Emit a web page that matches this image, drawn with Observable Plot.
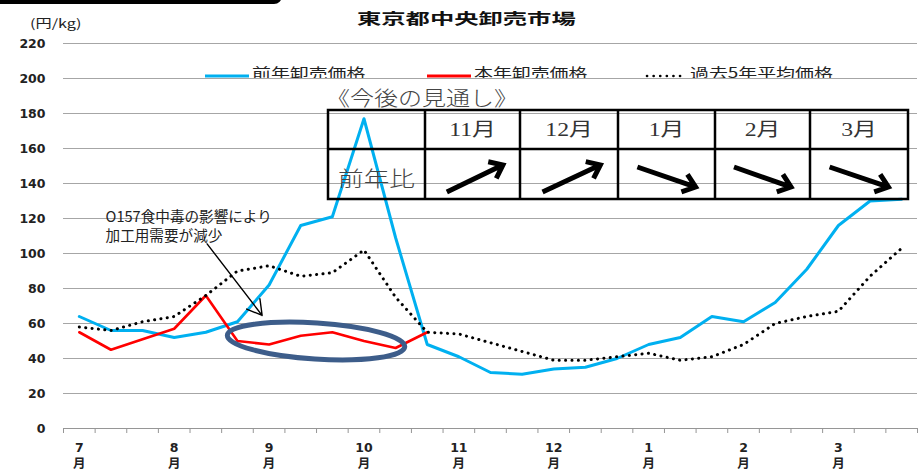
<!DOCTYPE html>
<html>
<head>
<meta charset="utf-8">
<script src="https://cdn.jsdelivr.net/npm/d3@7"></script>
<script src="https://cdn.jsdelivr.net/npm/@observablehq/plot@0.6"></script>
<style>
  html, body { margin: 0; padding: 0; background: #fff; }
  #wrap { position: relative; width: 919px; height: 471px; overflow: hidden; }
  #wrap svg.plot { position: absolute; left: 0; top: 0; }
  .ov { position: absolute; white-space: nowrap; transform-origin: left center; }
</style>
</head>
<body>
<div id="wrap"></div>
<script>
// ---------- data ----------
const monthLabels = ["7", "8", "9", "10", "11", "12", "1", "2", "3"];
// three periods (上・中・下旬) per month, July .. March
const prevYear = [64, 56, 56, 52, 55, 61, 82, 116, 121, 177, 109, 48, 41, 32, 31, 34, 35, 40, 48, 52, 64, 61, 72, 91, 116, 130, 131];
const thisYear = [55, 45, 51, 57, 76, 50, 48, 53, 55, 50, 46, 55];
const avg5 = [58, 56, 61, 64, 76, 90, 93, 87, 89, 102, 75, 55, 54, 49, 44, 39, 39, 41, 43, 39, 41, 48, 60, 64, 67, 87, 103];
const yTicks = [0, 20, 40, 60, 80, 100, 120, 140, 160, 180, 200, 220];
const legendLabels = ["前年卸売価格", "本年卸売価格", "過去5年平均価格"];
const outlookMonths = ["11月", "12月", "1月", "2月", "3月"];
const outlookTrend = ["up", "up", "down", "down", "down"];
const noteLines = ["O157食中毒の影響により", "加工用需要が減少"];

const toPts = arr => arr.map((v, i) => ({period: i + 0.5, price: v}));
const nPeriods = prevYear.length;
const monthPos = monthLabels.map((m, i) => i * 3 + 0.5);

const CJK = "'Noto Sans CJK JP', sans-serif";

const chart = Plot.plot({
  width: 919, height: 471,
  marginLeft: 63, marginRight: 2, marginTop: 43, marginBottom: 43,
  x: {type: "linear", domain: [0, nPeriods], axis: null},
  y: {domain: [0, 220], axis: null},
  style: {background: "transparent", fontFamily: "DejaVu Sans", overflow: "visible"},
  marks: [
    Plot.gridY(yTicks.filter(d => d > 0), {stroke: "#a6a6a6", strokeOpacity: 1, strokeWidth: 1}),
    Plot.ruleY([0], {stroke: "#969696", strokeWidth: 1}),
    Plot.axisX(d3.range(nPeriods + 1), {tickSize: 5, tickFormat: () => "", stroke: "#969696"}),
    Plot.axisY(yTicks, {tickSize: 0, tickPadding: 18, fontSize: 12.5, fontWeight: "bold", fill: "#222",
      fontFamily: "DejaVu Sans"}),
    Plot.text(monthPos, {x: d => d, frameAnchor: "bottom", lineAnchor: "top", dy: 13,
      text: (d, i) => monthLabels[i] + "\n月", lineHeight: 1.22, fontSize: 12.5, fontWeight: "bold",
      fill: "#222", fontFamily: "DejaVu Sans, 'Noto Sans CJK JP'"}),
    Plot.line(toPts(prevYear), {x: "period", y: "price", stroke: "#00B0F0", strokeWidth: 3}),
    Plot.line(toPts(thisYear), {x: "period", y: "price", stroke: "#FF0000", strokeWidth: 2.6}),
    Plot.line(toPts(avg5), {x: "period", y: "price", stroke: "#000", strokeWidth: 3,
      strokeDasharray: "0.1 6.3", strokeLinecap: "round"}),
    Plot.text(noteLines, {x: 1.33, y: (d, i) => [120.5, 110][i], text: d => d, textAnchor: "start",
      lineAnchor: "middle", fontSize: 14.6, fill: "#222", fontFamily: CJK}),
    Plot.arrow([{x1: 4.54, y1: 105.5, x2: 6.28, y2: 64.6}], {x1: "x1", y1: "y1", x2: "x2", y2: "y2",
      stroke: "#000", strokeWidth: 1.4, headLength: 18, headAngle: 60})
  ]
});
chart.classList.add("plot");
document.getElementById("wrap").appendChild(chart);

// ellipse highlighting the dip (data coordinates via plot scales)
const sx = chart.scale("x"), sy = chart.scale("y");
const ell = {x: 8.0, y: 49.7, dx: 2.81, dy: 10.3, rot: 3.7};
const cx = sx.apply(ell.x), cy = sy.apply(ell.y);
const rx = sx.apply(ell.x + ell.dx) - cx, ry = cy - sy.apply(ell.y + ell.dy);
const svg = d3.select(chart);
svg.append("ellipse")
  .attr("cx", cx).attr("cy", cy).attr("rx", rx).attr("ry", ry)
  .attr("transform", `rotate(${ell.rot} ${cx} ${cy})`)
  .attr("fill", "none").attr("stroke", "#3d5d8a").attr("stroke-width", 5);

// outlook table
const tbl = svg.append("g");
const colX = [328, 425, 520, 618, 715, 810, 908];
const rowY = [110, 149, 199];
tbl.append("rect").attr("x", colX[0]).attr("y", rowY[0]).attr("width", colX[6] - colX[0])
  .attr("height", rowY[2] - rowY[0]).attr("fill", "none").attr("stroke", "#000").attr("stroke-width", 2.5);
colX.slice(1, 6).forEach(x => tbl.append("line").attr("x1", x).attr("x2", x).attr("y1", rowY[0]).attr("y2", rowY[2])
  .attr("stroke", "#000").attr("stroke-width", 2.5));
tbl.append("line").attr("x1", colX[0]).attr("x2", colX[6]).attr("y1", rowY[1]).attr("y2", rowY[1])
  .attr("stroke", "#000").attr("stroke-width", 2.5);

function stretchedText(g, str, x, y, size, sxf, anchor, family, color, weight) {
  g.append("text").attr("transform", `translate(${x},${y}) scale(${sxf},1)`)
    .attr("text-anchor", anchor).attr("dominant-baseline", "central")
    .attr("font-size", size).attr("font-family", family).attr("fill", color)
    .attr("font-weight", weight || "normal").text(str);
}
const serif = "'Liberation Serif', 'Noto Sans CJK JP', serif";
stretchedText(tbl, "《今後の見通し》", 326, 97, 20, 1.2, "start", CJK, "#444", 300);
stretchedText(tbl, "前年比", (colX[0] + colX[1]) / 2, 177, 21, 1.22, "middle", CJK, "#444", 300);
outlookMonths.forEach((m, i) => {
  stretchedText(tbl, m, (colX[i + 1] + colX[i + 2]) / 2, 130, 19, 1.25, "middle", serif, "#333");
});
outlookTrend.forEach((t, i) => {
  const x0 = colX[i + 1], w = colX[i + 2] - x0;
  let tx, ty, hx, hy;
  if (t === "up") { tx = x0 + 0.23 * w; ty = 192; hx = x0 + 0.82 * w; hy = 165; }
  else { tx = x0 + 0.2 * w; ty = 167; hx = x0 + 0.8 * w; hy = 187; }
  const L = Math.hypot(hx - tx, hy - ty), ux = (hx - tx) / L, uy = (hy - ty) / L;
  const a = 38 * Math.PI / 180, bl = 15;
  const b1 = [hx - bl * (ux * Math.cos(a) - uy * Math.sin(a)), hy - bl * (uy * Math.cos(a) + ux * Math.sin(a))];
  const b2 = [hx - bl * (ux * Math.cos(-a) - uy * Math.sin(-a)), hy - bl * (uy * Math.cos(-a) + ux * Math.sin(-a))];
  tbl.append("path").attr("d", `M${tx},${ty}L${hx - 2 * ux},${hy - 2 * uy}M${b1[0]},${b1[1]}L${hx},${hy}L${b2[0]},${b2[1]}`)
    .attr("fill", "none").attr("stroke", "#000").attr("stroke-width", 5).attr("stroke-linejoin", "miter");
});

// ---------- HTML overlays: title, unit, legend ----------
const wrap = document.getElementById("wrap");
function ov(html, css) { const d = document.createElement("div"); d.className = "ov"; d.innerHTML = html; Object.assign(d.style, css); wrap.appendChild(d); return d; }
// black header bar (cut off at top)
ov("", {left: "-10px", top: "-20px", width: "292px", height: "24px", background: "#000", borderRadius: "8px"});
ov("東京都中央卸売市場", {left: "357px", top: "8px", fontFamily: CJK, fontWeight: "bold", fontSize: "15px",
  lineHeight: "20px", transform: "scaleX(1.62)", color: "#111"});
ov("(円/kg)", {left: "30px", top: "14px", fontFamily: CJK, fontSize: "12px", lineHeight: "18px",
  transform: "scaleX(1.35)", color: "#222"});
// legend (bottom slightly hidden by the 200 gridline like the original)
const legColors = ["#00B0F0", "#FF0000", null];
const legSwatchX = [205, 427, 645];
const legTextX = [252, 474, 690];
const legTextW = [116, 116, 148];
legendLabels.forEach((lab, i) => {
  const sw = legColors[i]
    ? `<svg width="44" height="4"><line x1="0" x2="44" y1="2" y2="2" stroke="${legColors[i]}" stroke-width="3"/></svg>`
    : `<svg width="38" height="4"><line x1="2" x2="36" y1="2" y2="2" stroke="#000" stroke-width="2.6" stroke-dasharray="0.1 6.5" stroke-linecap="round"/></svg>`;
  ov(sw, {left: legSwatchX[i] + "px", top: "71px", height: "4px", lineHeight: "4px"});
  ov(`<span style="display:inline-block;transform:scaleX(1.35);transform-origin:left top">${lab}</span>`,
    {left: legTextX[i] + "px", top: "63px", width: legTextW[i] + "px", height: "15px", overflow: "hidden",
     fontFamily: CJK, fontSize: "14px", lineHeight: "18px", color: "#222"});
});
</script>
</body>
</html>
